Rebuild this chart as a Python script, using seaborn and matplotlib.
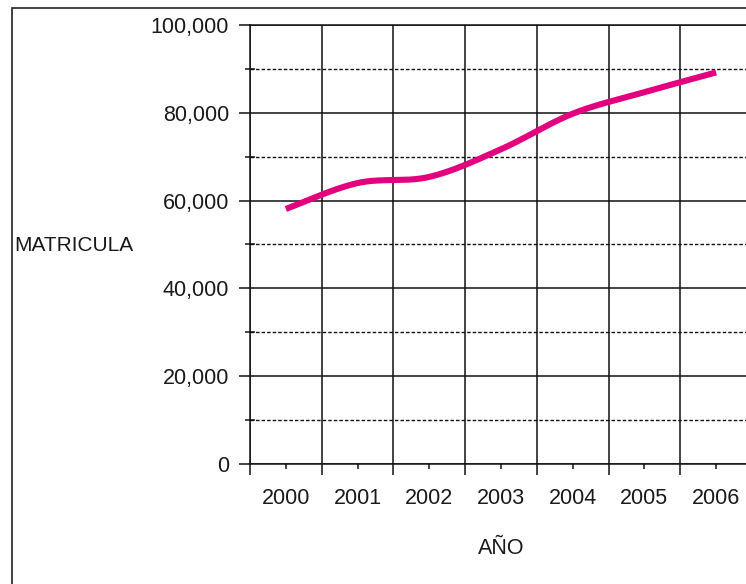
import numpy as np
import pandas as pd
import matplotlib
matplotlib.use("Agg")
import matplotlib.pyplot as plt
import seaborn as sns
from matplotlib.ticker import FixedLocator, NullFormatter, FixedFormatter, FuncFormatter
from matplotlib.patches import Rectangle

# Enrollment per year
years = ["2000", "2001", "2002", "2003", "2004", "2005", "2006"]
matricula = [58100, 64000, 65400, 71700, 79800, 84700, 89200]
y_major = [0, 20000, 40000, 60000, 80000, 100000]
y_minor = [10000, 30000, 50000, 70000, 90000]

LINE_COLOR = "#E2007E"
TEXT_COLOR = "#1a1a1a"
FONT = ["Liberation Sans", "DejaVu Sans"]


def smooth_curve(xv, yv, steps=40):
    """Bezier smoothing with Catmull-Rom control points (spreadsheet-style smoothed line)."""
    pts = np.column_stack([xv, yv]).astype(float)
    ext = np.vstack([pts[0], pts, pts[-1]])
    parts = []
    n = len(pts)
    for i in range(n - 1):
        p0, p1, p2, p3 = ext[i], ext[i + 1], ext[i + 2], ext[i + 3]
        c1 = p1 + (p2 - p0) / 6.0
        c2 = p2 - (p3 - p1) / 6.0
        t = np.linspace(0, 1, steps, endpoint=(i == n - 2))[:, None]
        seg = ((1 - t) ** 3) * p1 + 3 * ((1 - t) ** 2) * t * c1 + 3 * (1 - t) * (t ** 2) * c2 + (t ** 3) * p2
        parts.append(seg)
    out = np.vstack(parts)
    return out[:, 0], out[:, 1]


sns.set_style("white")
plt.rcParams["font.family"] = FONT

W, H = 746, 584
fig = plt.figure(figsize=(W / 100, H / 100), dpi=100)
fig.patch.set_facecolor("white")

# plot area (its right edge runs past the figure border)
left, top, right, bottom = 250, 25, 752, 464
ax = fig.add_axes([left / W, 1 - bottom / H, (right - left) / W, (bottom - top) / H])

xpos = np.arange(len(years))
sx, sy = smooth_curve(xpos, matricula)
curve = pd.DataFrame({"pos": sx, "matricula": sy})
sns.lineplot(data=curve, x="pos", y="matricula", ax=ax, color=LINE_COLOR,
             linewidth=4.4, sort=False, estimator=None, solid_capstyle="butt",
             zorder=5)

ax.set_xlim(-0.5, len(years) - 0.5)
ax.set_ylim(0, 100000)

# category boundaries inside the visible area
ax.xaxis.set_major_locator(FixedLocator(np.arange(-0.5, len(years) - 1, 1.0)))
ax.xaxis.set_major_formatter(NullFormatter())
ax.xaxis.set_minor_locator(FixedLocator(xpos))
ax.xaxis.set_minor_formatter(FixedFormatter(years))

ax.yaxis.set_major_locator(FixedLocator(y_major))
ax.yaxis.set_major_formatter(FuncFormatter(lambda v, p: f"{int(v):,}"))
ax.yaxis.set_minor_locator(FixedLocator(y_minor))
ax.yaxis.set_minor_formatter(NullFormatter())

ax.set_axisbelow(True)
ax.grid(which="major", axis="both", color="#111111", linewidth=1.1, linestyle="-")
ax.grid(which="minor", axis="y", color="#111111", linewidth=1.0, linestyle=(0, (2.5, 1.5)))

for side in ["left", "bottom", "top"]:
    ax.spines[side].set_visible(True)
    ax.spines[side].set_color("#111111")
    ax.spines[side].set_linewidth(1.1)
ax.spines["right"].set_visible(False)

ax.tick_params(axis="y", which="major", direction="out", length=7.9, width=1.1,
               pad=7.2, labelsize=15.5, labelcolor=TEXT_COLOR, color="#111111", left=True)
ax.tick_params(axis="y", which="minor", direction="inout", length=6.5, width=1.1,
               color="#111111", left=True)
ax.tick_params(axis="x", which="major", direction="out", length=7.9, width=1.1,
               color="#111111", bottom=True)
ax.tick_params(axis="x", which="minor", direction="out", length=3.6, width=1.1,
               pad=13.5, labelsize=15.5, labelcolor=TEXT_COLOR, color="#111111", bottom=True)

ax.set_xlabel("")
ax.set_ylabel("")

fig.text(14 / W, 1 - 245 / H, "MATRICULA", ha="left", va="center",
         fontsize=15, color=TEXT_COLOR)
fig.text(501 / W, 1 - 548 / H, "AÑO", ha="center", va="center",
         fontsize=15.5, color=TEXT_COLOR)

# outer chart frame
fig.add_artist(Rectangle((12 / W, -0.2), 2.0, (1 - 8 / H) + 0.2,
                         transform=fig.transFigure, fill=False,
                         edgecolor="#222222", linewidth=1.2))

fig.savefig("out.png", dpi=100)
